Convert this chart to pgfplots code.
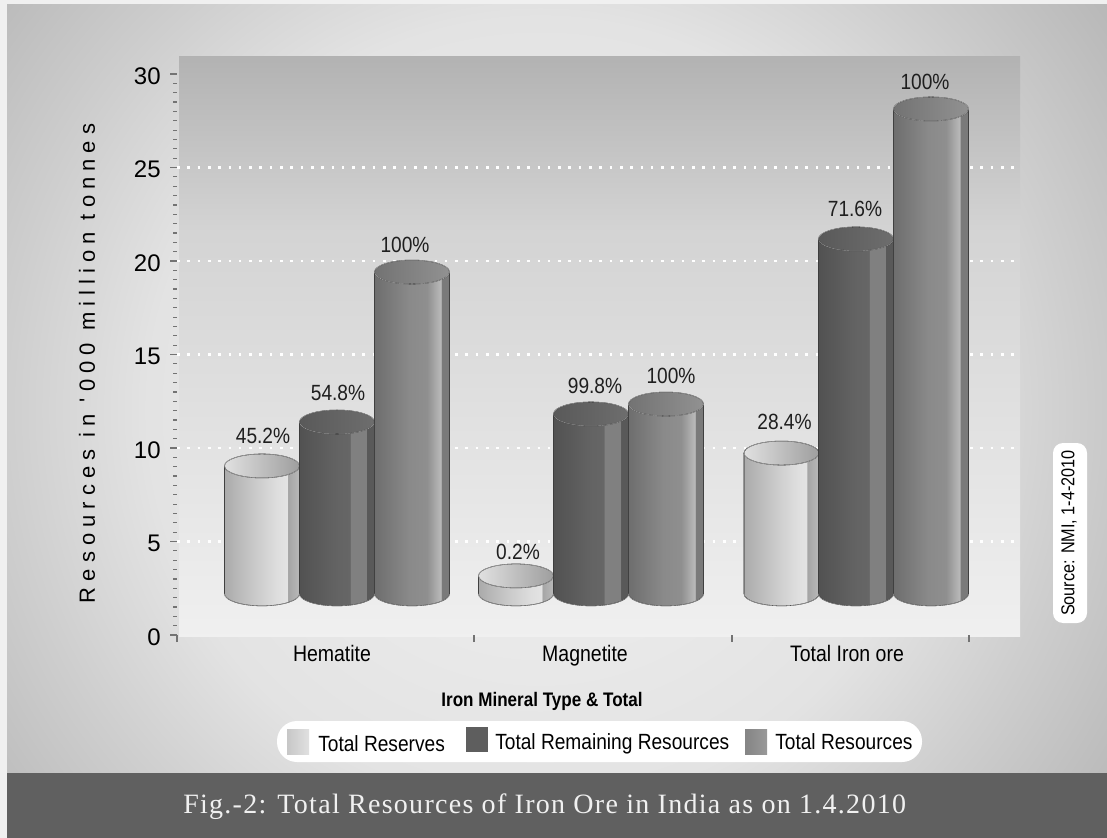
\documentclass[border=0pt]{standalone}
\usepackage{fontspec}
\usepackage{pgfplots}
\usepackage{pgfplotstable}
\pgfplotsset{compat=1.18}
\setmainfont{Liberation Sans}
\newfontfamily\condensed[FakeStretch=0.87]{Liberation Sans}
\newfontfamily\spaced[LetterSpace=27.5]{Liberation Sans}
\newfontfamily\captionserif[LetterSpace=4.6]{Liberation Serif}
\newcommand\fs[1]{\fontsize{#1}{#1}\selectfont}

% Greys used throughout
\definecolor{pagegrey}{gray}{0.94}
\definecolor{bandgrey}{gray}{0.375}

% Backdrop
\pgfdeclareradialshading{backdrop}{\pgfpointorigin}{
  color(0bp)=(black!7); color(7bp)=(black!8); color(14bp)=(black!11);
  color(19bp)=(black!19); color(25bp)=(black!28); color(50bp)=(black!28)}
\pgfdeclareverticalshading{plotarea}{100bp}{
  color(0bp)=(black!6); color(25bp)=(black!6); color(60bp)=(black!17);
  color(75bp)=(black!30); color(100bp)=(black!30)}

% Cylinder faces: 25bp is the left edge and 75bp the right edge of a shaded box
\pgfdeclarehorizontalshading{lightbody}{100bp}{
  color(0bp)=(black!33); color(25bp)=(black!33); color(45bp)=(black!21);
  color(60bp)=(black!13); color(67bp)=(black!11); color(67.1bp)=(black!36);
  color(75bp)=(black!27); color(100bp)=(black!27)}
\pgfdeclarehorizontalshading{lighttop}{100bp}{
  color(0bp)=(black!12); color(25bp)=(black!12); color(75bp)=(black!38); color(100bp)=(black!38)}
\pgfdeclarehorizontalshading{darkbody}{100bp}{
  color(0bp)=(black!68); color(25bp)=(black!68); color(50bp)=(black!61);
  color(58.7bp)=(black!60); color(58.8bp)=(black!50); color(69.7bp)=(black!50);
  color(69.8bp)=(black!65); color(75bp)=(black!65); color(100bp)=(black!65)}
\pgfdeclarehorizontalshading{darktop}{100bp}{
  color(0bp)=(black!65); color(25bp)=(black!65); color(75bp)=(black!57); color(100bp)=(black!57)}
\pgfdeclarehorizontalshading{midbody}{100bp}{
  color(0bp)=(black!57); color(25bp)=(black!57); color(48bp)=(black!46);
  color(60bp)=(black!44); color(69.3bp)=(black!27); color(69.4bp)=(black!52);
  color(75bp)=(black!52); color(100bp)=(black!52)}
\pgfdeclarehorizontalshading{midtop}{100bp}{
  color(0bp)=(black!55); color(25bp)=(black!55); color(75bp)=(black!43); color(100bp)=(black!43)}

% One cylinder, drawn downward from its value to the common floor (2.2).
% #1 side shading, #2 top shading, #3 rim
\newcommand\cylinder[3]{%
  \pgfmathsetmacro\cylh{(\cylv-2.2)*18.7}%
  \begin{scope}[x=0.75pt,y=0.75pt]
    \shade[shading=#1] (-37.5,0) -- (-37.5,-\cylh)
        arc[start angle=180,end angle=360,x radius=37.5,y radius=12] -- (37.5,0) -- cycle;
    \draw[draw=#3,line width=0.3pt] (-37.5,0) -- (-37.5,-\cylh)
        arc[start angle=180,end angle=360,x radius=37.5,y radius=12] -- (37.5,0);
    \shade[shading=#2] (0,0) ellipse[x radius=37.5,y radius=12];
    \draw[draw=#3,line width=0.35pt] (0,0) ellipse[x radius=37.5,y radius=12];
  \end{scope}%
}
\pgfdeclareplotmark{cyllight}{\cylinder{lightbody}{lighttop}{black!28}}
\pgfdeclareplotmark{cyldark}{\cylinder{darkbody}{darktop}{black!32}}
\pgfdeclareplotmark{cylmid}{\cylinder{midbody}{midtop}{black!28}}

% Heights in thousand million tonnes; dx, dy place the percentage above each top
\pgfplotstableread{
x     val    pct    dx   dy
262   9.04   45.2   1    30
516   3.16   0.2    2    24
781.5 9.73   28.4   3    31
}\reserves
\pgfplotstableread{
x     val    pct    dx   dy
337   11.39  54.8   1    29
591   11.82  99.8   4    28
856   21.18  71.6   -1   30
}\remaining
\pgfplotstableread{
x     val    pct    dx   dy
412   19.41  100    -7   27
666   12.35  100    5    28
931   28.13  100    -6   27
}\resources

\pgfplotsset{
  cylseries/.style={
    scatter,only marks,mark=#1,
    point meta=explicit,
    visualization depends on={y \as \cylv},
    visualization depends on={\thisrow{dx} \as \cyldx},
    visualization depends on={\thisrow{dy} \as \cyldy},
    nodes near coords={\pgfmathprintnumber[assume math mode=true]{\pgfplotspointmeta}\%},
    every node near coord/.append style={
      anchor=center,inner sep=0pt,font=\condensed\fs{16.5pt},text=black!88,
      xshift=\cyldx*0.75pt,yshift=\cyldy*0.75pt},
  },
}

\begin{document}
\begin{tikzpicture}
  \useasboundingbox (0,0) rectangle (1107*0.75pt,-838*0.75pt);
  \begin{scope}[x=0.75pt,y=-0.75pt]
    \fill[pagegrey] (0,0) rectangle (1107,838);
    \begin{scope}
      \clip (7,5) rectangle (1107,773);
      \shade[shading=backdrop] (-160,-290) rectangle (1240,1110);
    \end{scope}
    \fill[bandgrey] (7,773) rectangle (1107,838);
    \shade[shading=plotarea] (179,57) rectangle (1020,636);
    % Legend pill
    \fill[white,rounded corners=20*0.75pt] (277,721) rectangle (922,762);
    \shade[left color=black!22,right color=black!12] (287,729) rectangle (309,754);
    \fill[black!63] (466,727) rectangle (488,752);
    \shade[left color=black!48,right color=black!40] (745,729) rectangle (767,754);
    \node[anchor=west,inner sep=0pt] at (318,744) {\condensed\fs{16.5pt}Total Reserves};
    \node[anchor=west,inner sep=0pt] at (495,744) {\condensed\fs{16.5pt}Total Remaining Resources};
    \node[anchor=west,inner sep=0pt] at (775,742) {\condensed\fs{16.5pt}Total Resources};
    % Source tag
    \fill[white,rounded corners=10*0.75pt] (1053,443) rectangle (1087,623);
    \node[rotate=90,inner sep=0pt] at (1069,533) {\condensed\fs{14pt}Source: NMI, 1-4-2010};
    % Caption
    \node[anchor=west,inner sep=0pt,text=pagegrey] at (183,807)
      {\captionserif\fs{21pt}Fig.-2: Total Resources of Iron Ore in India as on 1.4.2010};
  \end{scope}

  \begin{axis}[
    at={(177*0.75pt,-635*0.75pt)}, anchor=south west,
    scale only axis,
    width=843*0.75pt, height=561*0.75pt,
    xmin=177, xmax=1020, ymin=0, ymax=30,
    axis line style={draw=none},
    clip=false,
    tick align=outside,
    xtick pos=lower, ytick pos=left,
    tick style={black!55,line width=0.9pt},
    major tick length=7*0.75pt,
    minor tick length=4*0.75pt,
    xtick={177,474,732,969}, xticklabels={},
    extra x ticks={332,585,847},
    extra x tick labels={Hematite,Magnetite,Total Iron ore},
    extra x tick style={major tick length=0pt,
      tick label style={font=\condensed\fs{16.8pt},yshift=-4pt}},
    ytick={0,5,...,30},
    minor y tick num=9,
    yticklabel style={font=\fs{18pt},/pgf/number format/assume math mode=true,xshift=-3.5pt,yshift=-1.5pt},
    extra y ticks={5,10,...,25},
    extra y tick labels={},
    extra y tick style={ymajorgrids=true,
      grid style={white,line width=2.6*0.75pt,dash pattern=on 2.6*0.75pt off 7.7*0.75pt}},
    xlabel={\condensed\bfseries\fs{14.7pt}Iron Mineral Type \& Total},
    every axis x label/.style={at={(axis description cs:0.433,-0.118)},anchor=center},
    ylabel={\spaced\fs{16.5pt}Resources in '000 million tonnes},
    every axis y label/.style={at={(axis description cs:-0.1068,0.484)},rotate=90,anchor=center},
  ]
    \addplot[cylseries=cyllight] table[x=x,y=val,meta=pct] {\reserves};
    \addplot[cylseries=cyldark] table[x=x,y=val,meta=pct] {\remaining};
    \addplot[cylseries=cylmid] table[x=x,y=val,meta=pct] {\resources};
  \end{axis}
\end{tikzpicture}
\end{document}
